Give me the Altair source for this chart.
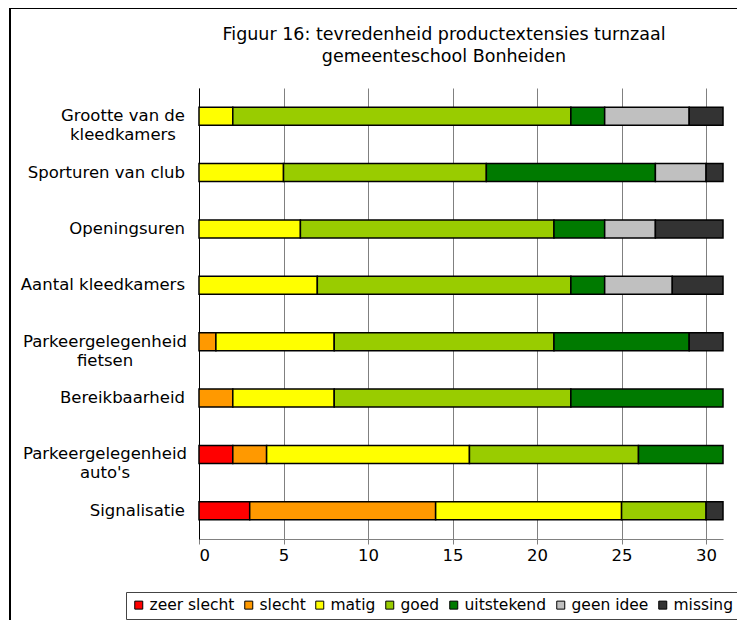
import altair as alt
import pandas as pd

categories = ["Grootte van de\nkleedkamers", "Sporturen van club", "Openingsuren",
              "Aantal kleedkamers", "Parkeergelegenheid\nfietsen", "Bereikbaarheid",
              "Parkeergelegenheid\nauto's", "Signalisatie"]
series = ["zeer slecht", "slecht", "matig", "goed", "uitstekend", "geen idee", "missing"]
colors = ["#FF0000", "#FF9900", "#FFFF00", "#99CC00", "#007A00", "#C0C0C0", "#333333"]

zeer_slecht = [0, 0, 0, 0, 0, 0, 2, 3]
slecht = [0, 0, 0, 0, 1, 2, 2, 11]
matig = [2, 5, 6, 7, 7, 6, 12, 11]
goed = [20, 12, 15, 15, 13, 14, 10, 5]
uitstekend = [2, 10, 3, 2, 8, 9, 5, 0]
geen_idee = [5, 3, 3, 4, 0, 0, 0, 0]
missing = [2, 1, 4, 3, 2, 0, 0, 1]

x_ticks = [0, 5, 10, 15, 20, 25, 30]
title_lines = ["Figuur 16: tevredenheid productextensies turnzaal", "gemeenteschool Bonheiden"]

vals = [zeer_slecht, slecht, matig, goed, uitstekend, geen_idee, missing]
rows = []
for si, (s, arr) in enumerate(zip(series, vals)):
    for ci, c in enumerate(categories):
        if arr[ci] > 0:
            rows.append({"cat": c, "serie": s, "idx": si, "value": arr[ci]})
df = pd.DataFrame(rows)
lab = pd.DataFrame({"cat": categories})

FONT = "DejaVu Sans"
FS = 16.5

yscale = alt.Scale(domain=categories, paddingInner=0.68, paddingOuter=0.34)

frame = alt.Chart(alt.Data(values=[{"a": 1}])).mark_rect(
    fillOpacity=0, stroke="black", strokeWidth=2
).encode(x=alt.value(-189), x2=alt.value(800), y=alt.value(-80), y2=alt.value(800))

bars = alt.Chart(df).mark_bar(stroke="black", strokeWidth=1.5).encode(
    x=alt.X("value:Q", stack="zero",
            scale=alt.Scale(domain=[0, 31], nice=False),
            axis=alt.Axis(values=x_ticks, title=None, grid=True, gridColor="#808080",
                          gridOpacity=1, domainColor="#808080", tickColor="#808080",
                          tickSize=5, labelFontSize=FS, labelFont=FONT, labelColor="black",
                          labelPadding=3)),
    y=alt.Y("cat:N", scale=yscale, sort=categories,
            axis=alt.Axis(labels=False, ticks=False, title=None, domainColor="black", grid=False)),
    color=alt.Color("serie:N", scale=alt.Scale(domain=series, range=colors),
                    legend=alt.Legend(title=None, orient="none", legendX=-73, legendY=504,
                                      direction="horizontal", strokeColor="#444",
                                      fillColor="white", padding=5, symbolType="square",
                                      symbolSize=64, symbolStrokeColor="black",
                                      symbolStrokeWidth=1, symbolOpacity=1,
                                      labelFontSize=15.5, labelFont=FONT, labelColor="black",
                                      labelOffset=3, columnPadding=6)),
    order=alt.Order("idx:Q"),
)

single = alt.Chart(lab).transform_filter(
    "indexof(datum.cat, '\\n') < 0"
).mark_text(align="right", baseline="middle", fontSize=FS, font=FONT, color="black").encode(
    y=alt.Y("cat:N", scale=yscale, sort=categories),
    x=alt.value(-14),
    text="cat:N",
)

multi = alt.Chart(lab).transform_filter(
    "indexof(datum.cat, '\\n') >= 0"
).transform_calculate(
    maxlen="max(length(split(datum.cat, '\\n')[0]), length(split(datum.cat, '\\n')[1]))",
    px="-13 - datum.maxlen * 9.0 / 2",
).mark_text(align="center", baseline="middle", fontSize=FS, font=FONT, color="black",
            lineBreak="\n", lineHeight=19).encode(
    y=alt.Y("cat:N", scale=yscale, sort=categories),
    x=alt.X("px:Q", scale=None, axis=None),
    text="cat:N",
)

chart = alt.layer(frame, bars, single, multi).properties(
    width=524, height=451,
    autosize=alt.AutoSizeParams(type="none"),
    padding={"left": 191, "top": 80, "right": 14, "bottom": 81},
    title=alt.TitleParams(text=title_lines, fontSize=17.5, font=FONT, fontWeight="normal",
                          anchor="middle", dx=-17, offset=-58, lineHeight=22, color="black"),
).configure_view(stroke=None)

chart.save("out.html", embed_options={"renderer": "svg", "actions": False})
